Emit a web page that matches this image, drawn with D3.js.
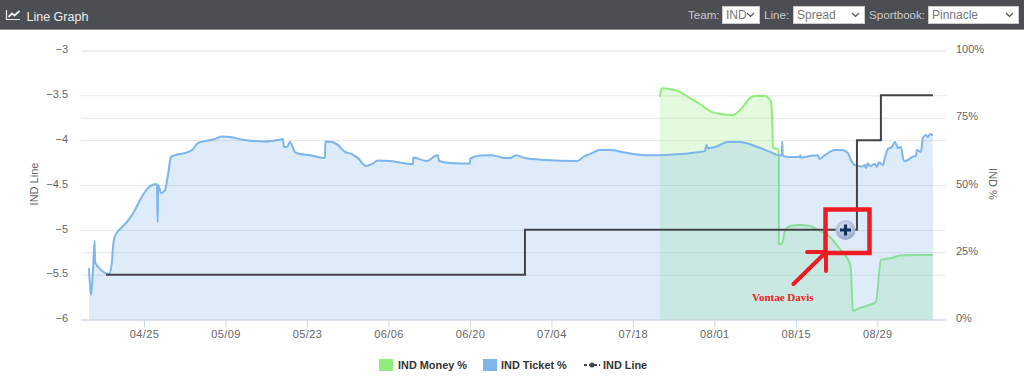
<!DOCTYPE html>
<html>
<head>
<meta charset="utf-8">
<script src="https://cdn.jsdelivr.net/npm/d3@7"></script>
<style>
  html, body { margin: 0; padding: 0; background: #fff; }
  #wrap { position: relative; width: 1024px; height: 380px; overflow: hidden; font-family: "Liberation Sans", Arial, sans-serif; }
  #chart { position: absolute; left: 0; top: 0; }
  .lbl { position: absolute; top: 7px; color: #ccc; font-size: 11.6px; line-height: 16px; }
  select {
    position: absolute; top: 6px; height: 18px; box-sizing: border-box;
    font: 12px "Liberation Sans", Arial, sans-serif; color: #777; background-color: #fff; border: 1px solid #ccc; padding: 0 0 0 3px;
    appearance: none; -webkit-appearance: none; border-radius: 0;
    background-image: url("data:image/svg+xml,%3Csvg xmlns='http://www.w3.org/2000/svg' width='9' height='6'%3E%3Cpath d='M1 1L4.5 4.5L8 1' fill='none' stroke='%23555' stroke-width='1.2'/%3E%3C/svg%3E");
    background-repeat: no-repeat; background-position: right 4px center;
  }
</style>
</head>
<body>
<div id="wrap"><svg id="chart" width="1024" height="380"></svg></div>
<script>
// Values are days after 04/25 and percent
const ticketDays = [-9.45,-9.11,-8.76,-8.47,-8.42,-7.56,-6.7,-6.01,-5.5,-5.33,-4.98,-4.12,-3.26,-2.41,-1.55,-0.69,0.17,1.03,2.23,2.34,2.44,2.92,3.61,4.12,4.64,5.33,7.04,8.25,9.28,10.48,12.2,13.4,14.77,17.35,20.79,23.36,23.88,24.05,24.57,25.08,25.94,26.8,28.52,31.1,31.17,32.3,33.33,34.53,35.73,36.77,38.14,39.17,40.2,42.26,46.21,46.28,48.62,50,50.51,50.68,52.57,56,56.07,57.72,59.79,62,62.88,63.9,65.46,68.9,74.4,75.76,76.62,78.34,80.06,82.64,86.07,88.65,92.08,95.52,96.38,96.67,96.9,98.1,100.33,102.4,104.97,107.55,108.92,109.61,109.66,109.75,110.99,112.7,112.77,112.87,114.42,115.79,116.05,117,118.7,119.9,120.95,121.46,122.15,123.35,123.87,124.04,124.38,124.73,125.59,125.93,126.27,126.96,127.3,127.82,128.5,129.02,129.54,130.05,130.57,131.26,131.95,132.63,132.8,133.49,133.83,134.34,134.69,135.03,135.55];
const ticketPct = [19.1,9.1,18.4,29.2,21.4,18.8,17.3,16.9,21.4,26.9,31,33.6,35.5,37.7,40.7,44.4,47.4,49.6,50.4,36.2,50,47,48.1,53.7,60.4,61.1,61.9,63,65.6,66.3,67.1,68,67.8,66.7,66.2,66.9,67.1,64.1,64.1,66,62.3,61.5,61.1,60,66.2,66,64.9,62.3,61.5,60,57.1,57.8,59.1,58.9,57.8,60.2,58.9,60.8,61.1,58.9,58.2,58,59.8,61,61.1,60,60,61.1,60,59.3,58.9,60.8,61.5,63,63,62.1,61.1,61.1,61.5,62.3,62.6,64.9,63.7,64.1,66,66,64.5,62.3,61.1,61.1,66.2,60.8,60.4,60.4,61.1,60.2,60.8,61.1,59.7,61.1,63,63,61.9,59.3,57.4,56.9,57.4,56.2,58.1,57,57.8,56.7,58.5,57.4,60.1,63.4,64.1,66,63.7,64.1,58.9,59.3,60.4,60.8,63,62.3,67.5,68.6,67.8,68.9,68.6];

const moneyDays = [88.65,88.82,89.16,90.37,92.08,93.8,95.52,97.24,98.96,101.19,101.88,102.74,104.11,104.97,106.69,107.72,107.98,108.06,108.4,108.92,109.09,109.09,109.61,110.12,110.99,112.7,114.42,116.14,117.85,119.57,121.29,121.46,121.8,123,125.76,126.62,127.3,128.5,129.88,132.46,135.55];
const moneyPct = [82.7,85.3,86,85.7,84.6,82.3,80.1,77.5,76.4,76,76.8,78.6,82.3,83.1,83.1,81.2,70.4,63.7,63.7,63.4,61.1,28.1,28.1,32.9,34.8,35.1,34.8,32.9,30.7,26.2,20.6,18.4,3.2,4.3,6.5,22.1,22.5,22.9,23.8,24,24];

const lineDays = [-6.53,65.46,122.5,126.62,135.55];
const lineVals = [-5.5,-5,-4,-3.5,-3.5];

const lineTicks = [-3,-3.5,-4,-4.5,-5,-5.5,-6];
const pctTicks = [0,25,50,75,100];
const dateTicks = ["04/25","05/09","05/23","06/06","06/20","07/04","07/18","08/01","08/15","08/29"];

const margin = { top: 50.5, right: 78, bottom: 60.5, left: 81 };
const width = 1024 - margin.left - margin.right;
const height = 380 - margin.top - margin.bottom;

const parseDate = d3.utcParse("%Y/%m/%d");
const baseDate = parseDate("2016/04/25");
const toDate = day => new Date(+baseDate + day * 864e5);

const x = d3.scaleUtc().domain([toDate(-10.82), toDate(137.8)]).range([0, width]);
const yLine = d3.scaleLinear().domain([-6, -3]).range([height, 0]);
const yPct = d3.scaleLinear().domain([0, 100]).range([height, 0]);

const svg = d3.select("#chart");
const wrap = d3.select("#wrap");

// Header bar
svg.append("rect").attr("width", 1024).attr("height", 29).attr("fill", "#4b4e52");
svg.append("rect").attr("y", 29).attr("width", 1024).attr("height", 1).attr("fill", "#8e9093");
svg.append("path").attr("d", "M6.5 10V19.5H20").attr("fill", "none").attr("stroke", "#eee").attr("stroke-width", 1.2);
svg.append("path").attr("d", "M8.5 17L12 13.5L14.5 15.5L19.5 11").attr("fill", "none").attr("stroke", "#eee").attr("stroke-width", 1.8);
svg.append("text").attr("x", 26.5).attr("y", 20.5).attr("font-size", 12.5).attr("fill", "#eee").text("Line Graph");

const addLabel = (left, text) => wrap.append("div").attr("class", "lbl").style("left", left + "px").text(text);
const addSelect = (left, w, text) => wrap.append("select").style("left", left + "px").style("width", w + "px")
    .append("option").text(text);
addLabel(688, "Team:");
addSelect(722, 38, "IND");
addLabel(764, "Line:");
addSelect(793, 72, "Spread");
addLabel(869, "Sportbook:");
addSelect(928, 91, "Pinnacle");

const g = svg.append("g").attr("transform", `translate(${margin.left}, ${margin.top})`);

// Axes and grid lines
const styleAxis = sel => {
    sel.select(".domain").remove();
    sel.selectAll("line").attr("stroke", "#e6e6e6");
    sel.selectAll("text").attr("fill", "#666").attr("font-size", 11).attr("font-family", "Liberation Sans, Arial, sans-serif");
};

g.append("g")
    .call(d3.axisLeft(yLine).tickValues(lineTicks).tickSize(-width).tickPadding(13).tickFormat(d3.format("")))
    .call(styleAxis)
    .selectAll("text").attr("dy", "0.2em");

g.append("g")
    .attr("transform", `translate(${width}, 0)`)
    .call(d3.axisRight(yPct).tickValues(pctTicks).tickSize(-width).tickPadding(10).tickFormat(d => d + "%"))
    .call(styleAxis)
    .selectAll("text").attr("dy", "0.2em");

const xAxis = g.append("g")
    .attr("transform", `translate(0, ${height})`)
    .call(d3.axisBottom(x)
        .tickValues(dateTicks.map(d => parseDate("2016/" + d)))
        .tickSize(8).tickPadding(3)
        .tickFormat(d3.utcFormat("%m/%d")))
    .call(styleAxis);
xAxis.selectAll("line").attr("stroke", "#ccd6eb");
xAxis.selectAll("text").attr("letter-spacing", 0.4);
xAxis.append("line").attr("x2", width).attr("y1", 0.5).attr("y2", 0.5).attr("stroke", "#ccd6eb");

// Series
const moneyData = moneyDays.map((d, i) => ({ day: d, value: moneyPct[i] }));
const ticketData = ticketDays.map((d, i) => ({ day: d, value: ticketPct[i] }));
const lineData = lineDays.map((d, i) => ({ day: d, value: lineVals[i] }));

const area = d3.area().x(d => x(toDate(d.day))).y0(height).y1(d => yPct(d.value)).curve(d3.curveMonotoneX);
const pctLine = d3.line().x(d => x(toDate(d.day))).y(d => yPct(d.value)).curve(d3.curveMonotoneX);

g.append("path").datum(moneyData).attr("fill", "#90ed7d").attr("fill-opacity", 0.25).attr("d", area);
g.append("path").datum(moneyData).attr("fill", "none").attr("stroke", "#90ed7d").attr("stroke-width", 2).attr("d", pctLine);
g.append("path").datum(ticketData).attr("fill", "#7cb5ec").attr("fill-opacity", 0.25).attr("d", area);
g.append("path").datum(ticketData).attr("fill", "none").attr("stroke", "#7cb5ec").attr("stroke-width", 2).attr("d", pctLine);

g.append("path").datum(lineData)
    .attr("fill", "none").attr("stroke", "#434348").attr("stroke-width", 2)
    .attr("d", d3.line().x(d => x(toDate(d.day))).y(d => yLine(d.value)).curve(d3.curveStepAfter));

// Axis titles
const axisTitle = (tx, rot, text) => svg.append("text")
    .attr("transform", `translate(${tx}, 184) rotate(${rot})`)
    .attr("text-anchor", "middle").attr("font-size", 11).attr("fill", "#666").text(text);
axisTitle(38, -90, "IND Line");
axisTitle(989, 90, "IND %");

// Legend
const legend = svg.append("g").attr("font-size", 10.9).attr("font-weight", "bold").attr("fill", "#333");
legend.append("rect").attr("x", 379).attr("y", 359).attr("width", 14).attr("height", 12).attr("fill", "#90ed7d");
legend.append("text").attr("x", 398).attr("y", 369).text("IND Money %");
legend.append("rect").attr("x", 483).attr("y", 359).attr("width", 14).attr("height", 12).attr("fill", "#7cb5ec");
legend.append("text").attr("x", 501).attr("y", 369).text("IND Ticket %");
legend.append("path").attr("d", "M584 365H600").attr("stroke", "#434348").attr("stroke-width", 2).attr("stroke-dasharray", "3 2");
legend.append("circle").attr("cx", 592).attr("cy", 365).attr("r", 2.5).attr("fill", "#434348");
legend.append("text").attr("x", 603).attr("y", 369).text("IND Line");

// Hand drawn annotation on top of the chart
const defs = svg.append("defs");
const grad = defs.append("radialGradient").attr("id", "knob").attr("cx", "45%").attr("cy", "35%").attr("r", "70%");
grad.append("stop").attr("offset", "0%").attr("stop-color", "#dfe6f2");
grad.append("stop").attr("offset", "100%").attr("stop-color", "#8ea3cb");
svg.append("circle").attr("cx", 845.5).attr("cy", 230).attr("r", 10).attr("fill", "url(#knob)");
svg.append("path").attr("d", "M845.5 224.5V235.5M840 230H851").attr("stroke", "#12305a").attr("stroke-width", 3.2);

svg.append("rect").attr("x", 825.5).attr("y", 209.5).attr("width", 44).attr("height", 43.5)
    .attr("fill", "none").attr("stroke", "#ed1c24").attr("stroke-width", 4.5);
svg.append("path").attr("d", "M793.5 284L824 254M807 252H826M826 254V271")
    .attr("fill", "none").attr("stroke", "#ed1c24").attr("stroke-width", 4).attr("stroke-linecap", "round");
svg.append("text").attr("x", 752).attr("y", 300.5).attr("font-family", "Liberation Serif, serif")
    .attr("font-weight", "bold").attr("font-size", 11).attr("fill", "#ed1c24").text("Vontae Davis");
</script>
</body>
</html>
